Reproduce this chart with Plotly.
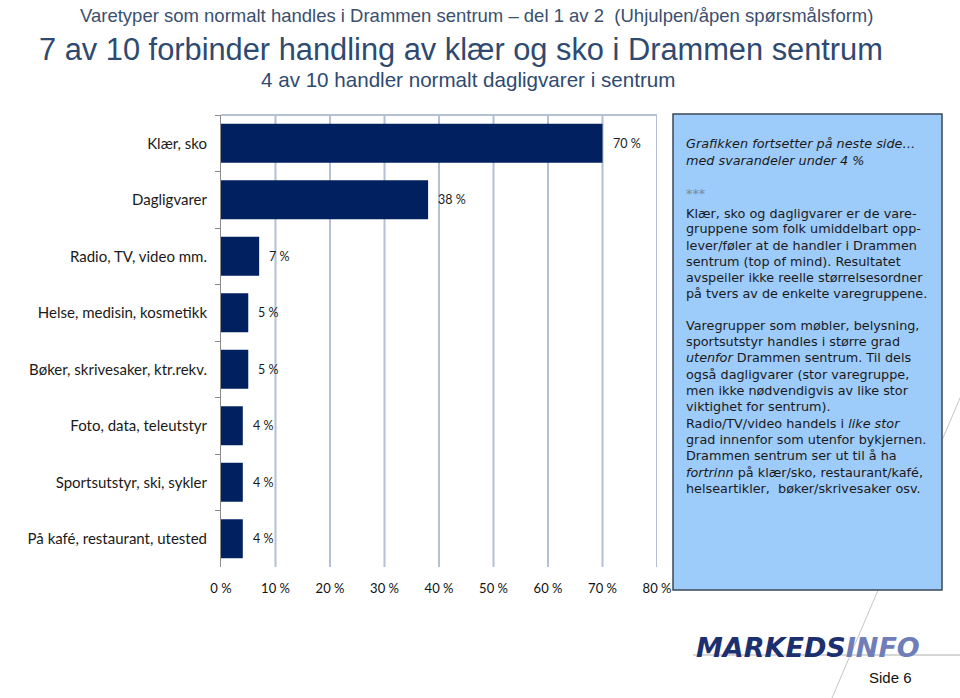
import plotly.graph_objects as go

categories = ["Klær, sko", "Dagligvarer", "Radio, TV, video mm.", "Helse, medisin, kosmetikk",
              "Bøker, skrivesaker, ktr.rekv.", "Foto, data, teleutstyr", "Sportsutstyr, ski, sykler",
              "På kafé, restaurant, utested"]
values = [70, 38, 7, 5, 5, 4, 4, 4]
x_ticks = [0, 10, 20, 30, 40, 50, 60, 70, 80]
x_tick_labels = ["0 %", "10 %", "20 %", "30 %", "40 %", "50 %", "60 %", "70 %", "80 %"]

W, H = 960, 698
L, R, T, B = 221, 657, 115, 567
GRID = "#b4c0d4"


def px(x):
    return (x - L) / (R - L)


def py(y):
    return (B - y) / (B - T)


fig = go.Figure()
fig.add_trace(go.Bar(
    y=categories, x=values, orientation="h",
    marker=dict(color="#002060", line=dict(width=0)),
    hoverinfo="skip",
))

annotations = []
for c, v in zip(categories, values):
    annotations.append(dict(x=v, y=c, xref="x", yref="y", text=f"{v} %", showarrow=False,
                            xanchor="left", xshift=8,
                            font=dict(family="Lato", size=12.5, color="#1a1a1a")))

titles = [
    dict(x=px(476), y=py(15), text="Varetyper som normalt handles i Drammen sentrum – del 1 av 2  (Uhjulpen/åpen spørsmålsform)",
         font=dict(family="Liberation Sans", size=18.5, color="#3b4f6e")),
    dict(x=px(461), y=py(50), text="7 av 10 forbinder handling av klær og sko i Drammen sentrum",
         font=dict(family="Liberation Sans", size=30.8, color="#2f4a70")),
    dict(x=px(468), y=py(80), text="4 av 10 handler normalt dagligvarer i sentrum",
         font=dict(family="Liberation Sans", size=20.6, color="#2f4a70")),
]
for a in titles:
    a.update(xref="paper", yref="paper", showarrow=False, xanchor="center", yanchor="middle")
annotations += titles

box_lines = [
    (143, "<i>Grafikken fortsetter på neste side…</i>", "#1a1a1a"),
    (160, "<i>med svarandeler under 4 %</i>", "#1a1a1a"),
    (193, "<i>***</i>", "#7a8a9a"),
    (213, "Klær, sko og dagligvarer er de vare-", "#1a1a1a"),
    (229, "gruppene som folk umiddelbart opp-", "#1a1a1a"),
    (245, "lever/føler at de handler i Drammen", "#1a1a1a"),
    (261, "sentrum (top of mind). Resultatet", "#1a1a1a"),
    (277, "avspeiler ikke reelle størrelsesordner", "#1a1a1a"),
    (293, "på tvers av de enkelte varegruppene.", "#1a1a1a"),
    (325, "Varegrupper som møbler, belysning,", "#1a1a1a"),
    (341, "sportsutstyr handles i større grad", "#1a1a1a"),
    (357, "<i>utenfor</i> Drammen sentrum. Til dels", "#1a1a1a"),
    (374, "også dagligvarer (stor varegruppe,", "#1a1a1a"),
    (390, "men ikke nødvendigvis av like stor", "#1a1a1a"),
    (406, "viktighet for sentrum).", "#1a1a1a"),
    (423, "Radio/TV/video handels i <i>like stor</i>", "#1a1a1a"),
    (439, "grad innenfor som utenfor bykjernen.", "#1a1a1a"),
    (455, "Drammen sentrum ser ut til å ha", "#1a1a1a"),
    (472, "<i>fortrinn</i> på klær/sko, restaurant/kafé,", "#1a1a1a"),
    (488, "helseartikler,  bøker/skrivesaker osv.", "#1a1a1a"),
]
for yy, t, col in box_lines:
    annotations.append(dict(x=px(684), y=py(yy), xref="paper", yref="paper", text=t, showarrow=False,
                            xanchor="left", yanchor="middle",
                            font=dict(family="DejaVu Sans", size=12.8, color=col)))

annotations.append(dict(x=px(808), y=py(647), xref="paper", yref="paper", showarrow=False,
                        xanchor="center", yanchor="middle",
                        text="<b><i><span style='color:#1c2f6e'>MARKEDS</span><span style='color:#6f7db8'>INFO</span></i></b>",
                        font=dict(family="DejaVu Sans", size=27)))
annotations.append(dict(x=px(890), y=py(677), xref="paper", yref="paper", showarrow=False,
                        xanchor="center", yanchor="middle", text="Side 6",
                        font=dict(family="Liberation Sans", size=15, color="#111111")))

# gridlines drawn at the x tick values through the x axis scale
try:
    go.layout.Shape(layer="between")
    grid_layer = "between"
except Exception:
    grid_layer = "below"

shapes = []
for tv in x_ticks[1:]:
    shapes.append(dict(type="line", xref="x", yref="paper", x0=tv, x1=tv, y0=0, y1=1,
                       line=dict(color=GRID, width=2), layer=grid_layer))
shapes += [
    dict(type="line", xref="x", yref="paper", x0=0, y0=1, x1=80, y1=1,
         line=dict(color=GRID, width=2)),
    dict(type="line", xref="paper", yref="paper", x0=px(966), y0=py(384), x1=px(832), y1=py(698),
         line=dict(color="#c4c4c4", width=1)),
    dict(type="rect", xref="paper", yref="paper", x0=px(673), y0=py(114), x1=px(942), y1=py(590),
         fillcolor="#9dcbfa", line=dict(color="#3b4858", width=1.5), layer="above"),
    dict(type="line", xref="paper", yref="paper", x0=px(693), y0=py(655), x1=px(960), y1=py(655),
         line=dict(color="#c8c8c8", width=1.5)),
]

fig.update_layout(
    template="none",
    width=W, height=H,
    margin=dict(l=L, r=W - R, t=T, b=H - B, pad=0, autoexpand=False),
    paper_bgcolor="white", plot_bgcolor="rgba(0,0,0,0)",
    showlegend=False, bargap=0.31,
    annotations=annotations, shapes=shapes,
    xaxis=dict(range=[0, 80], tickmode="array", tickvals=x_ticks, ticktext=x_tick_labels,
               showgrid=False, zeroline=False, showline=False,
               ticks="", automargin=False,
               tickfont=dict(family="Lato", size=13, color="#111111"), ticklabelstandoff=12, fixedrange=True),
    yaxis=dict(autorange="reversed", showline=True, linecolor="#8c8c8c", linewidth=1,
               ticks="outside", tickson="boundaries", ticklen=5, tickcolor="#8c8c8c",
               automargin=False,
               tickfont=dict(family="Lato", size=15, color="#1a1a1a"), ticklabelstandoff=10,
               showgrid=False, fixedrange=True),
)

fig.write_html("out.html", config={"displayModeBar": False, "staticPlot": True},
               post_script="document.body.style.margin='0px';document.body.style.overflow='hidden';")
